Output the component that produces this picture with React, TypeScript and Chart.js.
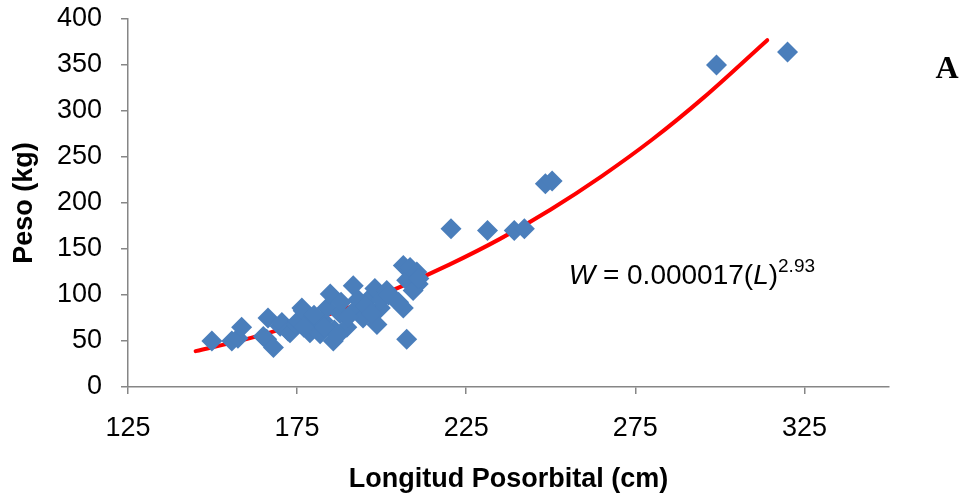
import React, { useEffect, useRef } from 'react';
import { Chart, registerables } from 'chart.js';

Chart.register(...registerables);

// Observed specimens: posorbital length (cm) and weight (kg)
const lengthCm = [
  149.8, 155.7, 157.5, 158.6, 166, 166.4, 165, 168, 170, 170.5,
  172.3, 172.9, 174.9, 175.3, 176.4, 176.8, 178.8, 179.7, 181.8, 182.7,
  183.8, 184.8, 185.7, 187.7, 189.7, 191.6, 192.7, 194.5, 196.6, 198,
  198.6, 199.6, 201.5, 203.4, 206.4, 207.4, 208.4, 206.4, 207.4, 210.8,
  209.3, 210.4, 180, 186, 188, 190, 193, 195, 197, 183,
  187, 200, 202, 177, 211, 205,
  220.5, 231.3, 239.2, 242.2, 248.4, 250.4, 299, 320,
];
const weightKg = [
  50, 50, 53, 65, 52, 75, 55, 43, 66, 70,
  61, 59, 68, 72, 86, 83, 59, 72, 58, 72,
  86, 101, 50, 80, 65, 110, 86, 75, 97, 107,
  68, 86, 105, 97, 132, 116, 130, 86, 52, 112,
  105, 125, 78, 62, 92, 76, 95, 88, 80, 65,
  56, 95, 100, 65, 118, 92,
  172, 170, 170, 172, 221, 224, 350, 364,
];

// Fitted power curve
const curveLengthCm = [145, 160, 175, 190, 205, 220, 235, 250, 265, 280, 295, 314];
const curveWeightKg = [39, 52, 68, 86, 108, 133, 161, 193, 229, 269, 314, 377];

const xTickValues = [125, 175, 225, 275, 325];
const yTickValues = [0, 50, 100, 150, 200, 250, 300, 350, 400];

const xTitle = 'Longitud Posorbital (cm)';
const yTitle = 'Peso (kg)';
const panelLabel = 'A';

const FONT = '"Liberation Sans", Arial, Helvetica, sans-serif';
const SERIF = '"Liberation Serif", "Times New Roman", serif';
const AXIS_GRAY = '#868686';
const POINT_BLUE = '#4a7ebb';

const annotationPlugin = {
  id: 'annotations',
  afterDraw(chart: any) {
    const ctx = chart.ctx;
    const xs = chart.scales.x;
    const ys = chart.scales.y;
    ctx.save();
    ctx.fillStyle = '#000';
    ctx.textBaseline = 'alphabetic';
    // equation
    let x = xs.getPixelForValue(255.3);
    const base = ys.getPixelForValue(112);
    const parts: [string, string][] = [
      ['W', 'italic 28px ' + FONT],
      [' = 0.000017(', '28px ' + FONT],
      ['L', 'italic 28px ' + FONT],
      [')', '28px ' + FONT],
    ];
    for (const [t, f] of parts) {
      ctx.font = f;
      ctx.fillText(t, x, base);
      x += ctx.measureText(t).width;
    }
    ctx.font = '19px ' + FONT;
    ctx.fillText('2.93', x, base - 12);
    // panel label
    ctx.font = 'bold 32px ' + SERIF;
    ctx.textAlign = 'center';
    ctx.fillText(panelLabel, 947, 78);
    ctx.restore();
  },
};

export default function App() {
  const ref = useRef<HTMLCanvasElement | null>(null);
  useEffect(() => {
    document.body.style.margin = '0';
    const canvas = ref.current;
    if (!canvas) return;
    const chart = new Chart(canvas, {
      type: 'scatter',
      data: {
        datasets: [
          {
            label: 'Datos',
            data: lengthCm.map((l, i) => ({ x: l, y: weightKg[i] })),
            pointStyle: 'rectRot',
            pointRadius: 10.5,
            backgroundColor: POINT_BLUE,
            borderColor: POINT_BLUE,
            borderWidth: 0,
          },
          {
            label: 'Ajuste',
            data: curveLengthCm.map((l, i) => ({ x: l, y: curveWeightKg[i] })),
            showLine: true,
            pointRadius: 0,
            borderColor: '#ff0000',
            borderWidth: 4,
            borderCapStyle: 'round',
            tension: 0.4,
            cubicInterpolationMode: 'monotone',
            fill: false,
          } as any,
        ],
      },
      options: {
        responsive: false,
        animation: false,
        devicePixelRatio: 1,
        layout: { autoPadding: false, padding: { left: 0, right: 77, top: 19, bottom: 0 } },
        plugins: { legend: { display: false }, tooltip: { enabled: false } },
        scales: {
          x: {
            type: 'linear',
            min: 125,
            max: 350,
            afterBuildTicks: (s: any) => {
              s.ticks = xTickValues.map((v) => ({ value: v }));
            },
            afterFit: (s: any) => {
              s.height = 110;
            },
            grid: {
              drawOnChartArea: false,
              drawTicks: true,
              tickLength: 7,
              color: AXIS_GRAY,
              lineWidth: 1.5,
            },
            border: { color: AXIS_GRAY, width: 1.5 },
            ticks: {
              padding: 18,
              color: '#000',
              font: { family: FONT, size: 27 },
              maxRotation: 0,
              callback: (v: any) => String(v),
            },
            title: {
              display: true,
              text: xTitle,
              color: '#000',
              font: { family: FONT, size: 27, weight: 'bold' },
              padding: { top: 0, bottom: 1 },
            },
          },
          y: {
            type: 'linear',
            min: 0,
            max: 400,
            afterBuildTicks: (s: any) => {
              s.ticks = yTickValues.map((v) => ({ value: v }));
            },
            afterFit: (s: any) => {
              s.width = 128;
              s.paddingTop = 0;
              s.paddingBottom = 0;
            },
            grid: {
              drawOnChartArea: false,
              drawTicks: true,
              tickLength: 7,
              color: AXIS_GRAY,
              lineWidth: 1.5,
            },
            border: { color: AXIS_GRAY, width: 1.5 },
            ticks: {
              padding: 19,
              color: '#000',
              font: { family: FONT, size: 27 },
              callback: (v: any) => String(v),
            },
            title: {
              display: true,
              text: yTitle,
              color: '#000',
              font: { family: FONT, size: 27, weight: 'bold' },
              padding: { top: 8, bottom: 0 },
            },
          },
        },
      } as any,
      plugins: [annotationPlugin],
    });
    return () => chart.destroy();
  }, []);
  return (
    <div style={{ position: 'fixed', left: 0, top: 0, width: 966, height: 497, background: '#fff' }}>
      <canvas ref={ref} width={966} height={497} />
    </div>
  );
}
